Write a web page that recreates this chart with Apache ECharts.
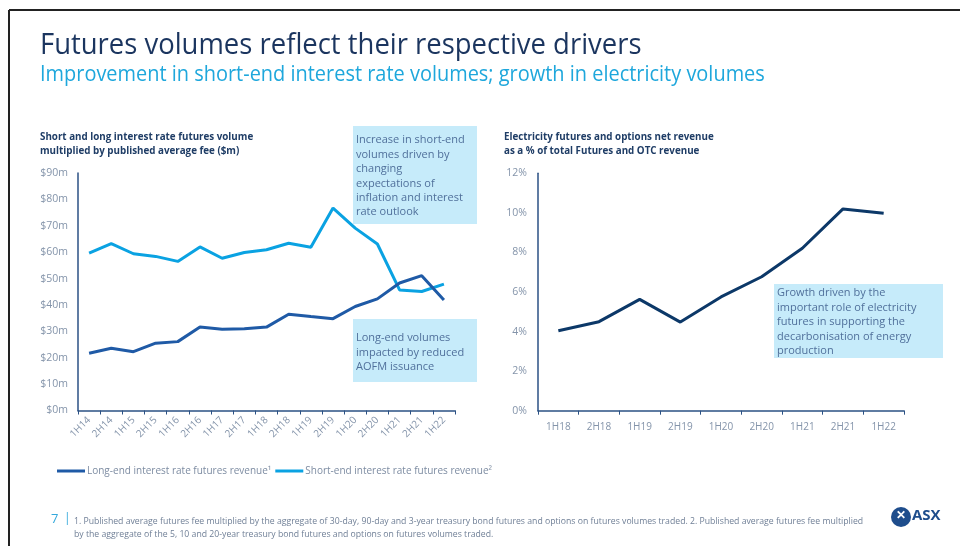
<!DOCTYPE html>
<html>
<head>
<meta charset="utf-8">
<script src="https://cdn.jsdelivr.net/npm/echarts@6/dist/echarts.min.js"></script>
<style>
  html, body { margin: 0; padding: 0; background: #fff; }
  #main { width: 960px; height: 546px; }
</style>
</head>
<body>
<div id="main"></div>
<script>
// 左图: 利率期货
const halfYears = ['1H14','2H14','1H15','2H15','1H16','2H16','1H17','2H17','1H18','2H18','1H19','2H19','1H20','2H20','1H21','2H21','1H22']
const longEnd = [21.7, 23.6, 22.3, 25.5, 26.1, 31.6, 30.8, 31.0, 31.6, 36.5, 35.6, 34.8, 39.4, 42.3, 48.3, 51.1, 41.9]
const shortEnd = [59.6, 63.2, 59.4, 58.4, 56.5, 62.0, 57.7, 59.9, 60.9, 63.4, 61.9, 76.7, 69.1, 63.1, 45.7, 45.1, 47.9]
// 右图: 电力期货占比
const elecPeriods = ['1H18','2H18','1H19','2H19','1H20','2H20','1H21','2H21','1H22']
const elecShare = [4.04, 4.5, 5.63, 4.48, 5.75, 6.77, 8.21, 10.2, 9.98]

const FONT = '"Open Sans", "Noto Sans", sans-serif'
const axisColor = '#2b5184'
const labelColor = '#8494aa'
const noteColor = '#50709b'

const chart = echarts.init(document.getElementById('main'))

// 注释框, dy 是文字相对框顶的偏移
function note(x, y, w, h, dy, lines) {
    return [
        { type: 'rect', left: x, top: y, shape: { width: w, height: h }, style: { fill: '#c6ebfa' } },
        { type: 'text', left: x + 3, top: y + dy, style: { text: lines.join('\n'), font: '11px ' + FONT, fill: noteColor, lineHeight: 14.4 } }
    ]
}

const option = {
    animation: false,
    textStyle: { fontFamily: FONT },
    grid: [
        { left: 78, right: 505, top: 173, bottom: 135.5 },
        { left: 538, right: 56, top: 173.3, bottom: 135.3 }
    ],
    legend: {
        left: 52, top: 461,
        icon: 'rect', itemWidth: 28, itemHeight: 3, itemGap: 4,
        textStyle: { color: '#7d8ca2', fontSize: 10, fontFamily: FONT, padding: [0, 0, 0, -3] },
        data: ['Long-end interest rate futures revenue¹', 'Short-end interest rate futures revenue²']
    },
    xAxis: [
        {
            type: 'category', gridIndex: 0, data: halfYears, boundaryGap: true,
            axisLine: { lineStyle: { color: axisColor, width: 1.5 } },
            axisTick: { show: true, inside: false, length: 4, lineStyle: { color: axisColor } },
            axisLabel: { rotate: 45, color: labelColor, fontSize: 10, margin: 8 }
        },
        {
            type: 'category', gridIndex: 1, data: elecPeriods, boundaryGap: true,
            axisLine: { lineStyle: { color: axisColor, width: 1.5 } },
            axisTick: { show: true, length: 4, lineStyle: { color: axisColor } },
            axisLabel: { color: labelColor, fontSize: 10, margin: 11 }
        }
    ],
    yAxis: [
        {
            type: 'value', gridIndex: 0, min: 0, max: 90, interval: 10,
            splitLine: { show: false },
            axisLine: { show: true, lineStyle: { color: axisColor, width: 1.5 } },
            axisTick: { show: false },
            axisLabel: { color: labelColor, fontSize: 10.5, margin: 10, formatter: '${value}m' }
        },
        {
            type: 'value', gridIndex: 1, min: 0, max: 12, interval: 2,
            splitLine: { show: false },
            axisLine: { show: true, lineStyle: { color: axisColor, width: 1.5 } },
            axisTick: { show: false },
            axisLabel: { color: labelColor, fontSize: 10.5, margin: 11, formatter: '{value}%' }
        }
    ],
    series: [
        {
            name: 'Long-end interest rate futures revenue¹', type: 'line', xAxisIndex: 0, yAxisIndex: 0,
            data: longEnd, symbol: 'none', itemStyle: { color: '#1f5aa6' }, lineStyle: { width: 3, color: '#1f5aa6' }, z: 3
        },
        {
            name: 'Short-end interest rate futures revenue²', type: 'line', xAxisIndex: 0, yAxisIndex: 0,
            data: shortEnd, symbol: 'none', itemStyle: { color: '#0aa2e2' }, lineStyle: { width: 3, color: '#0aa2e2' }, z: 2
        },
        {
            name: 'Electricity', type: 'line', xAxisIndex: 1, yAxisIndex: 1,
            data: elecShare, symbol: 'none', lineStyle: { width: 3, color: '#0c3868' }, itemStyle: { color: '#0c3868' }
        }
    ],
    graphic: [
        // 外框
        { type: 'line', shape: { x1: 9, y1: 10, x2: 960, y2: 10 }, style: { stroke: '#222', lineWidth: 2 } },
        { type: 'line', shape: { x1: 9, y1: 10, x2: 9, y2: 546 }, style: { stroke: '#222', lineWidth: 2 } },
        // 标题
        { type: 'text', left: 40, top: 30, scaleX: 0.915, style: { text: 'Futures volumes reflect their respective drivers', font: '30px ' + FONT, fill: '#1b355f' } },
        { type: 'text', left: 40, top: 65, scaleX: 0.95, style: { text: 'Improvement in short-end interest rate volumes; growth in electricity volumes', font: '21px ' + FONT, fill: '#1ea7dc' } },
        // 图表小标题
        { type: 'text', left: 40, top: 130, style: { text: 'Short and long interest rate futures volume\nmultiplied by published average fee ($m)', font: 'bold 9.8px ' + FONT, fill: '#1f3d66', lineHeight: 14 } },
        { type: 'text', left: 504, top: 130, style: { text: 'Electricity futures and options net revenue\nas a % of total Futures and OTC revenue', font: 'bold 9.8px ' + FONT, fill: '#1f3d66', lineHeight: 14 } },
        // 注释框
        ...note(353, 126, 124, 98, 7, ['Increase in short-end', 'volumes driven by', 'changing', 'expectations of', 'inflation and interest', 'rate outlook']),
        ...note(353, 319, 124, 63, 12, ['Long-end volumes', 'impacted by reduced', 'AOFM issuance']),
        ...note(774, 284, 169, 74, 2, ['Growth driven by the', 'important role of electricity', 'futures in supporting the', 'decarbonisation of energy', 'production']),
        // 页脚
        { type: 'text', left: 51, top: 513, style: { text: '7', font: '13px ' + FONT, fill: '#35a9dc' } },
        { type: 'text', left: 64, top: 513, style: { text: '|', font: '12px ' + FONT, fill: '#35a9dc' } },
        { type: 'text', left: 74, top: 515, style: { text: '1. Published average futures fee multiplied by the aggregate of 30-day, 90-day and 3-year treasury bond futures and options on futures volumes traded. 2. Published average futures fee multiplied\nby the aggregate of the 5, 10 and 20-year treasury bond futures and options on futures volumes traded.', font: '8.7px ' + FONT, fill: '#6f7f96', lineHeight: 13 } },
        // ASX 标志
        { type: 'circle', shape: { cx: 901, cy: 517, r: 10 }, style: { fill: '#1e4d8c' } },
        { type: 'text', left: 896, top: 510, style: { text: '✕', font: 'bold 12px ' + FONT, fill: '#fff' } },
        { type: 'text', left: 912, top: 508, style: { text: 'ASX', font: 'bold 15px ' + FONT, fill: '#1e4d8c' } }
    ]
}

chart.setOption(option)
</script>
</body>
</html>
